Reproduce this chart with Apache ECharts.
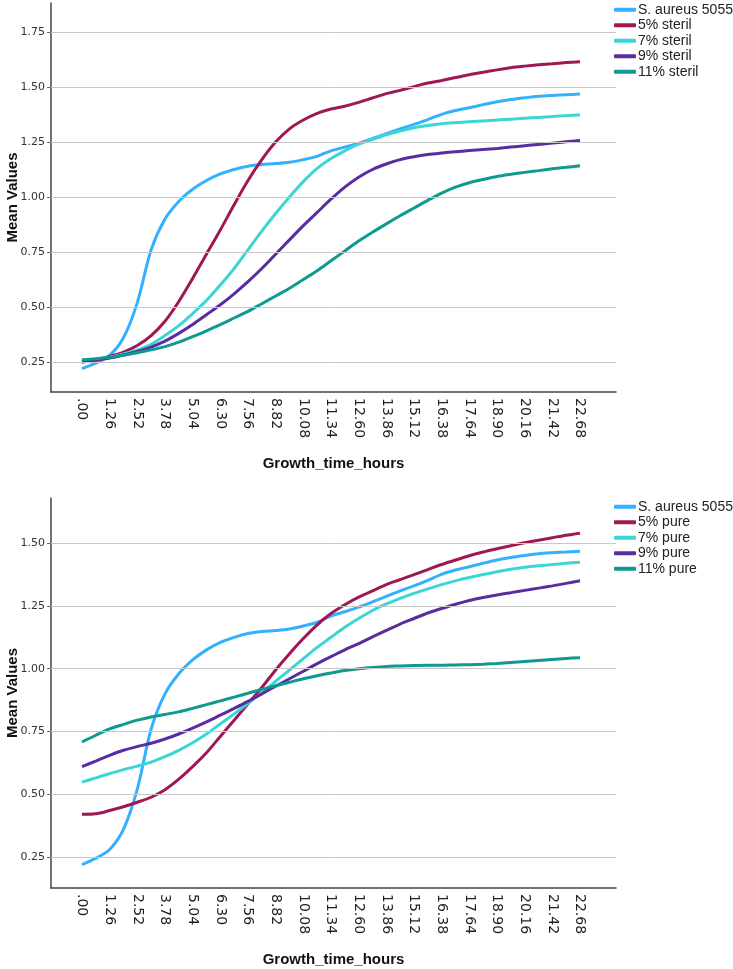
<!DOCTYPE html>
<html>
<head>
<meta charset="utf-8">
<script src="https://cdn.jsdelivr.net/npm/echarts@6/dist/echarts.min.js"></script>
<style>
html,body{margin:0;padding:0;background:#fff;}
#chart{width:733px;height:969px;}
</style>
</head>
<body>
<div id="chart"></div>
<script>
// Growth time (hours)
const times = [0.00,0.63,1.26,1.89,2.52,3.15,3.78,4.41,5.04,5.67,6.30,6.93,7.56,8.19,8.82,9.45,10.08,10.71,11.34,11.97,12.60,13.23,13.86,14.49,15.12,15.75,16.38,17.01,17.64,18.27,18.90,19.53,20.16,20.79,21.42,22.05,22.68];
const xTicks = [0.00,1.26,2.52,3.78,5.04,6.30,7.56,8.82,10.08,11.34,12.60,13.86,15.12,16.38,17.64,18.90,20.16,21.42,22.68];
const yTicksTop = [0.25,0.50,0.75,1.00,1.25,1.50,1.75];
const yTicksBottom = [0.25,0.50,0.75,1.00,1.25,1.50];

const aureus = [0.22,0.245,0.28,0.36,0.52,0.76,0.90,0.98,1.035,1.075,1.105,1.125,1.14,1.148,1.152,1.158,1.17,1.185,1.21,1.227,1.245,1.266,1.288,1.31,1.33,1.352,1.376,1.393,1.406,1.42,1.433,1.443,1.451,1.458,1.462,1.465,1.468];

const steril5 = [0.25,0.26,0.275,0.295,0.325,0.37,0.435,0.525,0.63,0.74,0.85,0.965,1.075,1.17,1.25,1.31,1.35,1.38,1.40,1.413,1.43,1.45,1.47,1.485,1.502,1.518,1.53,1.543,1.556,1.567,1.578,1.588,1.595,1.601,1.606,1.611,1.615];
const steril7 = [0.255,0.262,0.272,0.287,0.305,0.33,0.37,0.415,0.47,0.53,0.60,0.675,0.76,0.845,0.925,1.00,1.07,1.13,1.175,1.21,1.24,1.262,1.283,1.30,1.315,1.325,1.333,1.338,1.342,1.346,1.35,1.354,1.358,1.362,1.366,1.37,1.373];
const steril9 = [0.25,0.258,0.268,0.282,0.298,0.318,0.345,0.38,0.42,0.465,0.51,0.56,0.615,0.675,0.74,0.805,0.87,0.93,0.99,1.045,1.09,1.125,1.15,1.17,1.183,1.193,1.20,1.206,1.211,1.216,1.221,1.227,1.233,1.239,1.245,1.251,1.257];
const steril11 = [0.26,0.265,0.272,0.281,0.292,0.305,0.32,0.34,0.365,0.392,0.42,0.45,0.48,0.515,0.55,0.585,0.625,0.665,0.71,0.755,0.80,0.84,0.878,0.915,0.95,0.985,1.018,1.045,1.065,1.08,1.093,1.103,1.112,1.12,1.128,1.135,1.142];

const pure5 = [0.42,0.422,0.435,0.45,0.468,0.488,0.518,0.56,0.61,0.665,0.73,0.795,0.86,0.925,0.995,1.06,1.12,1.175,1.22,1.255,1.285,1.31,1.335,1.355,1.375,1.395,1.415,1.433,1.45,1.465,1.478,1.49,1.502,1.512,1.522,1.532,1.54];
const pure7 = [0.548,0.565,0.582,0.598,0.612,0.628,0.65,0.675,0.705,0.74,0.78,0.82,0.862,0.905,0.95,0.995,1.04,1.085,1.125,1.165,1.20,1.232,1.258,1.28,1.30,1.318,1.335,1.35,1.363,1.375,1.386,1.396,1.404,1.41,1.415,1.42,1.424];
const pure9 = [0.61,0.632,0.655,0.675,0.69,0.703,0.72,0.74,0.763,0.788,0.815,0.842,0.87,0.90,0.93,0.96,0.99,1.02,1.048,1.075,1.10,1.127,1.153,1.178,1.20,1.222,1.24,1.257,1.272,1.284,1.294,1.303,1.312,1.321,1.33,1.34,1.35];
const pure11 = [0.708,0.735,0.76,0.778,0.795,0.808,0.818,0.828,0.842,0.857,0.872,0.887,0.902,0.918,0.932,0.946,0.96,0.972,0.983,0.993,1.00,1.005,1.009,1.011,1.013,1.014,1.014,1.015,1.016,1.018,1.021,1.025,1.029,1.033,1.037,1.041,1.044];

const namesTop = ['S. aureus 5055','5% steril','7% steril','9% steril','11% steril'];
const namesBottom = ['S. aureus 5055','5% pure','7% pure','9% pure','11% pure'];
const colors = ['#33b1ff','#9f1853','#3ad6d6','#5a2ca0','#0e9a90'];

const FONT = 'Liberation Sans';
const chart = echarts.init(document.getElementById('chart'), null, {renderer:'canvas'});

function pairs(arr){ return times.map((t,i)=>[t, arr[i]]); }

function xAxisDef(gridIndex){
  return {
    type:'value', gridIndex, min:-1.41, max:24.32,
    name:'Growth_time_hours', nameLocation:'middle', nameGap:64, nameMoveOverlap:false,
    nameTextStyle:{fontFamily:FONT, fontWeight:'bold', fontSize:15, color:'#111'},
    axisLine:{show:true, onZero:false, lineStyle:{color:'#444', width:1.5}},
    axisTick:{show:false},
    splitLine:{show:false},
    axisLabel:{
      customValues:xTicks, rotate:-90, margin:6, fontFamily:'DejaVu Sans', fontSize:14, color:'#222',
      formatter:(v)=> v===0 ? '.00' : v.toFixed(2)
    }
  };
}
function yAxisDef(gridIndex, min, max, ticks){
  return {
    type:'value', gridIndex, min, max,
    name:'Mean Values', nameLocation:'middle', nameGap:31, nameMoveOverlap:false,
    nameTextStyle:{fontFamily:FONT, fontWeight:'bold', fontSize:15, color:'#111'},
    axisLine:{show:true, onZero:false, lineStyle:{color:'#444', width:1.5}},
    axisTick:{show:true, customValues:ticks, length:4, lineStyle:{color:'#666'}},
    splitLine:{show:false},
    axisLabel:{customValues:ticks, margin:6, fontFamily:'DejaVu Sans', fontSize:11, color:'#333',
      formatter:(v)=>v.toFixed(2)}
  };
}
function gridLines(idx, ticks){
  return {
    type:'line', xAxisIndex:idx, yAxisIndex:idx, data:[], silent:true, z:0,
    markLine:{silent:true, symbol:['none','none'], label:{show:false},
      lineStyle:{color:'#c8c8c8', width:1, type:'solid'}, animation:false,
      data: ticks.map(v=>({yAxis:v}))}
  };
}
function lineSeries(name, arr, idx, color){
  return {
    type:'line', name, xAxisIndex:idx, yAxisIndex:idx, data:pairs(arr),
    showSymbol:false, symbol:'none', smooth:0.3, z:3,
    lineStyle:{width:3, color}, itemStyle:{color}
  };
}
function legendDef(top, names){
  return {
    orient:'vertical', left:614, top, padding:0, itemGap:0, itemWidth:22, itemHeight:4,
    icon:'roundRect', data:names, selectedMode:false,
    textStyle:{fontFamily:FONT, fontSize:14, color:'#222', lineHeight:15.5, padding:[0,0,0,-3]}
  };
}

const option = {
  animation:false,
  backgroundColor:'#fff',
  grid:[
    {left:51, right:117, top:3, height:389, containLabel:false, outerBoundsMode:'none'},
    {left:51, right:117, top:498, height:390, containLabel:false, outerBoundsMode:'none'}
  ],
  xAxis:[xAxisDef(0), xAxisDef(1)],
  yAxis:[yAxisDef(0, 0.1136, 1.882, yTicksTop), yAxisDef(1, 0.1265, 1.680, yTicksBottom)],
  legend:[legendDef(2, namesTop), legendDef(499, namesBottom)],
  series:[
    gridLines(0, yTicksTop),
    gridLines(1, yTicksBottom),
    lineSeries(namesTop[0], aureus, 0, colors[0]),
    lineSeries(namesTop[1], steril5, 0, colors[1]),
    lineSeries(namesTop[2], steril7, 0, colors[2]),
    lineSeries(namesTop[3], steril9, 0, colors[3]),
    lineSeries(namesTop[4], steril11, 0, colors[4]),
    lineSeries(namesBottom[0], aureus, 1, colors[0]),
    lineSeries(namesBottom[1], pure5, 1, colors[1]),
    lineSeries(namesBottom[2], pure7, 1, colors[2]),
    lineSeries(namesBottom[3], pure9, 1, colors[3]),
    lineSeries(namesBottom[4], pure11, 1, colors[4])
  ]
};
chart.setOption(option);
</script>
</body>
</html>
